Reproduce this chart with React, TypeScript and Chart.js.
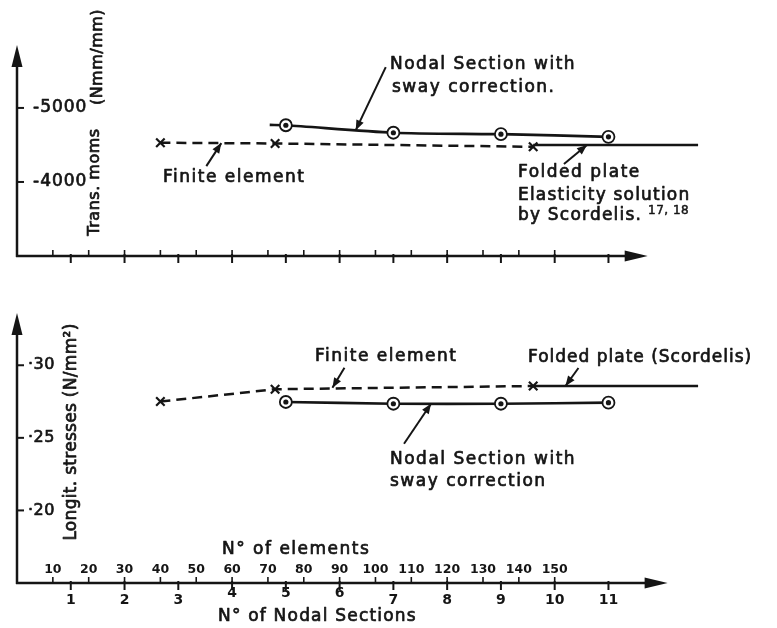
import React, { useEffect, useRef } from "react";
import { Chart, registerables } from "chart.js";

Chart.register(...registerables);

const INK = "#151515";
const FONT = '"DejaVu Sans", "Liberation Sans", sans-serif';
const W = 777;
const H = 628;

// ---- shared axis ticks ----
const nodalSectionTicks = [1, 2, 3, 4, 5, 6, 7, 8, 9, 10, 11];
const elementTicks = [10, 20, 30, 40, 50, 60, 70, 80, 90, 100, 110, 120, 130, 140, 150];
const momentTicks = [-5000, -4000];
const momentTickLabels = ["-5000", "-4000"];
const stressTicks = [0.2, 0.25, 0.3];
const stressTickLabels = ["·20", "·25", "·30"];

// ---- top panel: transverse moments (Nmm/mm) ----
const momFiniteElements = [40, 72, 144];
const momFiniteValues = [-4530, -4520, -4475];
const momFoldedElements = [144, 190];
const momFoldedValues = [-4500, -4500];
const momNodalSections = [4.7, 5, 7, 9, 11];
const momNodalValues = [-4770, -4766, -4665, -4645, -4610];
const momNodalMarked = [false, true, true, true, true];

// ---- bottom panel: longitudinal stresses (N/mm²) ----
const strFiniteElements = [40, 72, 144];
const strFiniteValues = [0.275, 0.2835, 0.2857];
const strFoldedElements = [144, 190];
const strFoldedValues = [0.2857, 0.2857];
const strNodalSections = [5, 7, 9, 11];
const strNodalValues = [0.2747, 0.2735, 0.2735, 0.2742];
const strNodalMarked = [true, true, true, true];

type Ctx = CanvasRenderingContext2D;

function txt(
  ctx: Ctx,
  s: string,
  x: number,
  y: number,
  size: number,
  opts: { align?: CanvasTextAlign; bold?: boolean; spacing?: number; weight?: number } = {}
) {
  ctx.save();
  ctx.font = `${opts.bold ? "bold " : ""}${size}px ${FONT}`;
  (ctx as any).letterSpacing = `${opts.spacing ?? 0}px`;
  ctx.fillStyle = INK;
  ctx.strokeStyle = INK;
  ctx.lineWidth = opts.weight ?? 0.7;
  ctx.lineJoin = "round";
  ctx.textAlign = opts.align ?? "left";
  ctx.textBaseline = "middle";
  ctx.fillText(s, x, y);
  if (!opts.bold) ctx.strokeText(s, x, y);
  ctx.restore();
}

function vtxt(ctx: Ctx, s: string, cx: number, cy: number, size: number, spacing = 0) {
  ctx.save();
  ctx.translate(cx, cy);
  ctx.rotate(-Math.PI / 2);
  ctx.font = `${size}px ${FONT}`;
  (ctx as any).letterSpacing = `${spacing}px`;
  ctx.fillStyle = INK;
  ctx.strokeStyle = INK;
  ctx.lineWidth = 0.7;
  ctx.lineJoin = "round";
  ctx.textAlign = "center";
  ctx.textBaseline = "middle";
  ctx.fillText(s, 0, 0);
  ctx.strokeText(s, 0, 0);
  ctx.restore();
}

function arrowHead(ctx: Ctx, tx: number, ty: number, dx: number, dy: number, len: number, half: number) {
  const l = Math.hypot(dx, dy);
  const ux = dx / l;
  const uy = dy / l;
  const bx = tx - ux * len;
  const by = ty - uy * len;
  ctx.beginPath();
  ctx.moveTo(tx, ty);
  ctx.lineTo(bx - uy * half, by + ux * half);
  ctx.lineTo(bx + uy * half, by - ux * half);
  ctx.closePath();
  ctx.fill();
}

function leader(ctx: Ctx, tx: number, ty: number, dx: number, dy: number) {
  ctx.save();
  ctx.strokeStyle = INK;
  ctx.fillStyle = INK;
  ctx.lineWidth = 2;
  ctx.beginPath();
  ctx.moveTo(tx + dx, ty + dy);
  ctx.lineTo(tx, ty);
  ctx.stroke();
  arrowHead(ctx, tx, ty, -dx, -dy, 10, 4);
  ctx.restore();
}

function line(ctx: Ctx, x1: number, y1: number, x2: number, y2: number) {
  ctx.beginPath();
  ctx.moveTo(x1, y1);
  ctx.lineTo(x2, y2);
  ctx.stroke();
}

function drawFrame(chart: any, base: number, xEnd: number, yTicks: number[]) {
  const ctx: Ctx = chart.ctx;
  const xs = chart.scales.x;
  const xe = chart.scales.x2;
  const ys = chart.scales.y;
  const x0 = xs.getPixelForValue(0);
  const yAx = ys.getPixelForValue(base);
  const top = chart.chartArea.top;
  const xEndPx = xs.getPixelForValue(xEnd);
  ctx.save();
  ctx.strokeStyle = INK;
  ctx.fillStyle = INK;
  ctx.lineWidth = 2.5;
  line(ctx, x0, yAx + 1, x0, top + 15);
  arrowHead(ctx, x0, top, 0, -1, 22, 5.5);
  line(ctx, x0 - 1, yAx, xEndPx - 15, yAx);
  arrowHead(ctx, xEndPx, yAx, 1, 0, 23, 5.5);
  ctx.lineWidth = 2;
  for (const n of nodalSectionTicks) {
    const px = xs.getPixelForValue(n);
    line(ctx, px, yAx - 2, px, yAx + 7);
  }
  ctx.lineWidth = 1.6;
  for (const e of elementTicks) {
    const px = xe.getPixelForValue(e);
    line(ctx, px, yAx - 6, px, yAx);
  }
  ctx.lineWidth = 2;
  for (const v of yTicks) {
    const py = ys.getPixelForValue(v);
    line(ctx, x0, py, x0 + 7, py);
  }
  ctx.restore();
}

function pts(xs: number[], ys: number[]) {
  return xs.map((x, i) => ({ x, y: ys[i] }));
}

function datasets(
  finE: number[],
  finV: number[],
  folE: number[],
  folV: number[],
  nodN: number[],
  nodV: number[],
  marked: boolean[]
) {
  return [
    {
      label: "dots",
      data: pts(nodN, nodV).filter((_, i) => marked[i]),
      xAxisID: "x",
      showLine: false,
      pointRadius: 2.6,
      pointBackgroundColor: INK,
      pointBorderWidth: 0,
      order: 0,
    },
    {
      label: "Nodal Section with sway correction",
      data: pts(nodN, nodV),
      xAxisID: "x",
      borderColor: INK,
      borderWidth: 2.7,
      tension: 0.25,
      pointStyle: "circle",
      pointRadius: nodN.map((_, i) => (marked[i] ? 6 : 0)),
      pointBorderColor: INK,
      pointBackgroundColor: "#fff",
      pointBorderWidth: 1.8,
      order: 1,
    },
    {
      label: "Finite element",
      data: pts(finE, finV),
      xAxisID: "x2",
      borderColor: INK,
      borderWidth: 2.5,
      borderDash: [10, 6],
      pointStyle: "crossRot",
      pointRadius: 6,
      pointBorderWidth: 2.2,
      pointBorderColor: INK,
      order: 2,
    },
    {
      label: "Folded plate (Scordelis)",
      data: pts(folE, folV),
      xAxisID: "x2",
      borderColor: INK,
      borderWidth: 2.6,
      pointRadius: 0,
      order: 3,
    },
  ];
}

function baseOptions(padTop: number, padBottom: number, yMin: number, yMax: number, reverse: boolean) {
  return {
    responsive: false,
    animation: false as const,
    devicePixelRatio: 1,
    events: [] as any[],
    layout: { padding: { left: 17, right: 61, top: padTop, bottom: padBottom } },
    plugins: { legend: { display: false }, tooltip: { enabled: false } },
    scales: {
      x: { type: "linear" as const, min: 0, max: 13, display: false },
      x2: { type: "linear" as const, axis: "x" as const, position: "bottom" as const, min: 0, max: 195, display: false },
      y: { type: "linear" as const, min: yMin, max: yMax, reverse, display: false },
    },
  };
}

const topDecor = {
  id: "topDecor",
  afterDatasetsDraw(chart: any) {
    const ctx: Ctx = chart.ctx;
    const xs = chart.scales.x;
    const xe = chart.scales.x2;
    const ys = chart.scales.y;
    drawFrame(chart, -3000, 11.73, momentTicks);
    const x0 = xs.getPixelForValue(0);
    momentTicks.forEach((v, i) => txt(ctx, momentTickLabels[i], x0 + 16, ys.getPixelForValue(v), 17, { spacing: 1 }));
    vtxt(ctx, "Trans. moms", 95, 182, 16, 0.5);
    vtxt(ctx, "(Nmm/mm)", 98, 57, 16, 0.5);
    // annotations
    txt(ctx, "Nodal Section with", 390, 65, 17, { spacing: 1.5 });
    txt(ctx, "sway correction.", 392, 88, 17, { spacing: 1.5 });
    leader(ctx, xs.getPixelForValue(6.3), ys.getPixelForValue(-4700), 30, -63);
    txt(ctx, "Finite element", 163, 178, 17, { spacing: 1.5 });
    leader(ctx, xe.getPixelForValue(57), ys.getPixelForValue(-4525), -15, 23);
    txt(ctx, "Folded plate", 518, 173, 17, { spacing: 1.5 });
    txt(ctx, "Elasticity solution", 518, 196, 17, { spacing: 1.2 });
    txt(ctx, "by Scordelis.", 518, 216, 17, { spacing: 1.2 });
    txt(ctx, "17, 18", 648, 211, 12, { spacing: 0.5, weight: 0.5 });
    leader(ctx, xe.getPixelForValue(159), ys.getPixelForValue(-4500), -23, 19);
  },
};

const bottomDecor = {
  id: "bottomDecor",
  afterDatasetsDraw(chart: any) {
    const ctx: Ctx = chart.ctx;
    const xs = chart.scales.x;
    const xe = chart.scales.x2;
    const ys = chart.scales.y;
    drawFrame(chart, 0.15, 12.1, stressTicks);
    const x0 = xs.getPixelForValue(0);
    const yAx = ys.getPixelForValue(0.15);
    stressTicks.forEach((v, i) => txt(ctx, stressTickLabels[i], x0 + 11, ys.getPixelForValue(v), 16, { spacing: 0.5 }));
    vtxt(ctx, "Longit. stresses (N/mm²)", 72, 432, 17, 0.3);
    // x axis labels
    elementTicks.forEach((e) =>
      txt(ctx, String(e), xe.getPixelForValue(e), yAx - 13, 12.5, { align: "center", bold: true })
    );
    nodalSectionTicks.forEach((n) =>
      txt(ctx, String(n), xs.getPixelForValue(n), yAx + (n >= 4 && n <= 6 ? 10 : 17), 14, { align: "center", bold: true })
    );
    txt(ctx, "N° of elements", 222, 550, 17, { spacing: 1.5 });
    txt(ctx, "N° of Nodal Sections", 218, 617, 17, { spacing: 1.2 });
    // annotations
    txt(ctx, "Finite element", 315, 357, 17, { spacing: 1.5 });
    leader(ctx, xe.getPixelForValue(88), ys.getPixelForValue(0.2845), 12, -20);
    txt(ctx, "Folded plate (Scordelis)", 528, 358, 17, { spacing: 1 });
    leader(ctx, xe.getPixelForValue(153), ys.getPixelForValue(0.2857), 13, -18);
    txt(ctx, "Nodal Section with", 390, 460, 17, { spacing: 1.5 });
    txt(ctx, "sway correction", 390, 482, 17, { spacing: 1.5 });
    leader(ctx, xs.getPixelForValue(7.7), ys.getPixelForValue(0.2735), -27, 40);
  },
};

export default function App() {
  const topRef = useRef<HTMLCanvasElement>(null);
  const botRef = useRef<HTMLCanvasElement>(null);

  useEffect(() => {
    const c1 = new Chart(topRef.current as HTMLCanvasElement, {
      type: "line",
      data: {
        datasets: datasets(
          momFiniteElements,
          momFiniteValues,
          momFoldedElements,
          momFoldedValues,
          momNodalSections,
          momNodalValues,
          momNodalMarked
        ) as any,
      },
      options: baseOptions(45, H - 256, -5850, -3000, true) as any,
      plugins: [topDecor],
    });
    const c2 = new Chart(botRef.current as HTMLCanvasElement, {
      type: "line",
      data: {
        datasets: datasets(
          strFiniteElements,
          strFiniteValues,
          strFoldedElements,
          strFoldedValues,
          strNodalSections,
          strNodalValues,
          strNodalMarked
        ) as any,
      },
      options: baseOptions(313, H - 583, 0.15, 0.336, false) as any,
      plugins: [bottomDecor],
    });
    return () => {
      c1.destroy();
      c2.destroy();
    };
  }, []);

  return (
    <div style={{ position: "absolute", left: 0, top: 0, width: W, height: H, background: "#fff", overflow: "hidden" }}>
      <canvas ref={topRef} width={W} height={H} style={{ position: "absolute", left: 0, top: 0 }} />
      <canvas ref={botRef} width={W} height={H} style={{ position: "absolute", left: 0, top: 0 }} />
    </div>
  );
}
